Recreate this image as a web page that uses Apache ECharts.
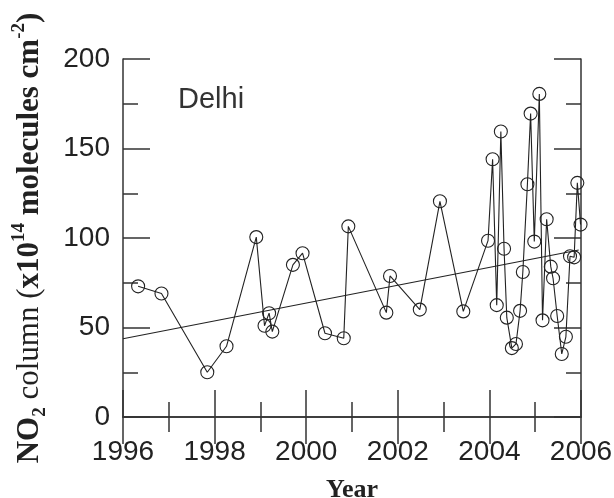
<!DOCTYPE html>
<html>
<head>
<meta charset="utf-8">
<script src="https://cdn.jsdelivr.net/npm/echarts@6/dist/echarts.min.js"></script>
<style>
  html, body { margin: 0; padding: 0; background: #fff; }
  #chart { width: 614px; height: 498px; }
</style>
</head>
<body>
<div id="chart"></div>
<script>
// Monthly/seasonal NO2 tropospheric column over Delhi (x10^14 molecules cm^-2)
const years = [1996.33, 1996.84, 1997.84, 1998.26, 1998.91, 1999.09, 1999.19, 1999.26, 1999.71, 1999.92,
  2000.41, 2000.82, 2000.92, 2001.75, 2001.83, 2002.48, 2002.92, 2003.43, 2003.97, 2004.07,
  2004.16, 2004.25, 2004.32, 2004.38, 2004.49, 2004.58, 2004.67, 2004.73, 2004.83, 2004.90,
  2004.98, 2005.09, 2005.16, 2005.25, 2005.34, 2005.39, 2005.48, 2005.58, 2005.67, 2005.76,
  2005.85, 2005.92, 2005.99];
const no2 = [73, 69, 25, 39.5, 100.5, 51, 58, 47.7, 85, 91.5,
  46.8, 44, 106.5, 58.3, 78.8, 60, 120.5, 59, 98.5, 144,
  62.5, 159.5, 94, 55.5, 38.5, 40.8, 59.3, 81, 130, 169.5,
  98, 180.5, 54, 110.5, 84, 77.5, 56.4, 35.2, 44.8, 89.8,
  89.2, 130.8, 107.5];

// Linear trend end points
const trendYears = [1996, 2005.95];
const trendValues = [43.7, 93.3];

const cityName = 'Delhi';

const ink = '#222';
const sans = '"Liberation Sans", Arial, sans-serif';
const serif = '"Liberation Serif", "Times New Roman", serif';

const tickCommon = {
  axisLine: { show: true, lineStyle: { color: '#333', width: 1.5 } },
  axisTick: { show: true, inside: true, length: 27, lineStyle: { color: '#333', width: 1.5 } },
  minorTick: { show: true, splitNumber: 2, length: 15, lineStyle: { color: '#333', width: 1.5 } },
  splitLine: { show: false },
  minorSplitLine: { show: false }
};

const chart = echarts.init(document.getElementById('chart'), null, { renderer: 'canvas' });

chart.setOption({
  animation: false,
  backgroundColor: '#fff',
  grid: { left: 123, right: 33, top: 59, bottom: 81, containLabel: false, outerBoundsMode: 'none' },
  xAxis: [
    Object.assign({
      type: 'value', position: 'bottom', min: 1996, max: 2006, interval: 2,
      axisLabel: { fontSize: 28, fontFamily: sans, color: ink, margin: 21, formatter: v => String(v) },
      name: 'Year', nameLocation: 'middle', nameGap: 60,
      nameTextStyle: { fontSize: 26, fontFamily: serif, fontWeight: 'bold', color: ink }
    }, tickCommon),
    Object.assign({
      type: 'value', position: 'top', min: 1996, max: 2006, interval: 2,
      axisLabel: { show: false }
    }, tickCommon)
  ],
  yAxis: [
    Object.assign({
      type: 'value', position: 'left', min: 0, max: 200, interval: 50,
      axisLabel: { fontSize: 28, fontFamily: sans, color: ink, margin: 13 },
      name: '{b|NO}{sub|2}{r| column (}{b|x10}{sup|14}{b| molecules cm}{sup|-2}{b|)}',
      nameLocation: 'middle', nameRotate: 90, nameGap: 73,
      nameTextStyle: {
        color: ink,
        rich: {
          b: { fontSize: 31, fontFamily: serif, fontWeight: 'bold', color: ink, lineHeight: 40, verticalAlign: 'middle' },
          r: { fontSize: 31, fontFamily: serif, fontWeight: 'normal', color: ink, lineHeight: 40, verticalAlign: 'middle' },
          sub: { fontSize: 19, fontFamily: serif, fontWeight: 'bold', color: ink, verticalAlign: 'bottom' },
          sup: { fontSize: 19, fontFamily: serif, fontWeight: 'bold', color: ink, verticalAlign: 'top' }
        }
      }
    }, tickCommon),
    Object.assign({
      type: 'value', position: 'right', min: 0, max: 200, interval: 50,
      axisLabel: { show: false }
    }, tickCommon)
  ],
  graphic: [{
    type: 'text', left: 178, top: 85,
    style: { text: cityName, fontSize: 29, fontFamily: sans, fill: '#333' }
  }],
  series: [
    {
      type: 'line',
      data: years.map((y, i) => [y, no2[i]]),
      symbol: 'circle',
      symbolSize: 13,
      clip: false,
      itemStyle: { color: 'rgba(0,0,0,0)', borderColor: ink, borderWidth: 1.1 },
      lineStyle: { color: ink, width: 1.1 },
      z: 3
    },
    {
      type: 'line',
      data: trendYears.map((y, i) => [y, trendValues[i]]),
      symbol: 'none',
      lineStyle: { color: ink, width: 1.1 },
      z: 2
    }
  ]
});
</script>
</body>
</html>
